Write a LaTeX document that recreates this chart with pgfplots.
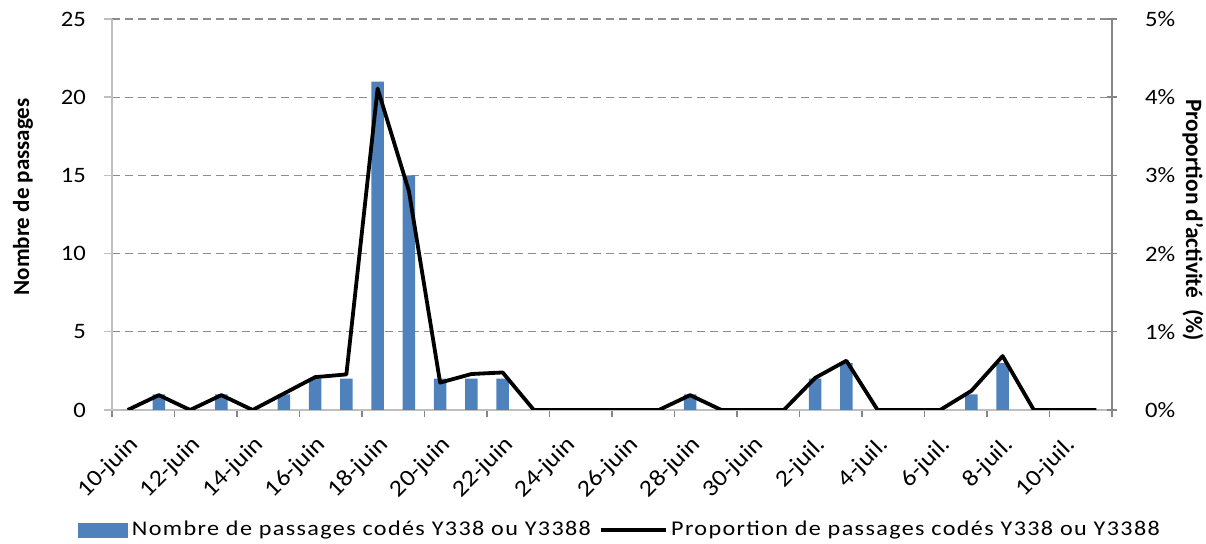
\documentclass[border=0pt]{standalone}
\usepackage{fontspec}
\setmainfont{Carlito}
\newfontfamily\tickfont{Carlito}[FakeStretch=1.12]
\newfontfamily\legfont{Carlito}[FakeStretch=1.15,LetterSpace=6.5]
\usepackage{pgfplots}
\pgfplotsset{compat=1.18}
\definecolor{barblue}{HTML}{4F81BD}
\definecolor{gridgray}{HTML}{8C8C8C}
\definecolor{axgray}{HTML}{BFBFBF}
\definecolor{raxgray}{HTML}{868686}
\begin{document}
\begin{tikzpicture}
\useasboundingbox (-56pt,-67pt) rectangle (547pt,205pt);
\pgfplotsset{
  common/.style={
    width=500pt, height=195.5pt, scale only axis,
    at={(0,0)}, anchor=south west,
    xmin=-0.5, xmax=31.5,
    /pgf/number format/assume math mode=true,
    ticklabel style={font=\tickfont\fontsize{11}{13}\selectfont, text=black},
    tick align=outside,
  }
}
\begin{axis}[common,
  ymin=0, ymax=25, ytick={0,5,...,25},
  axis y line*=left, axis x line*=bottom,
  x axis line style={axgray, line width=0.7pt, -},
  y axis line style={axgray, line width=0.7pt, -},
  xtick={0,2,...,30},
  xticklabels={10-juin,12-juin,14-juin,16-juin,18-juin,20-juin,22-juin,24-juin,26-juin,28-juin,30-juin,2-juil.,4-juil.,6-juil.,8-juil.,10-juil.},
  major x tick style={draw=none},
  minor xtick={-0.5,1.5,...,31.5},
  minor x tick style={raxgray, line width=0.6pt},
  minor tick length=3.5pt,
  major tick length=4pt,
  y tick style={axgray, line width=0.7pt},
  xticklabel style={font=\tickfont\fontsize{11.7}{13}\selectfont, xshift=0pt, yshift=-6.5pt, rotate=45, anchor=north east, inner sep=1pt},
  yticklabel style={xshift=-5.5pt},
  ymajorgrids,
  major grid style={gridgray, line width=0.6pt, dash pattern=on 4pt off 2.5pt},
  ylabel={Nombre de passages},
  ylabel style={at={(axis description cs:-0.089,0.545)}, anchor=center, font=\bfseries\fontsize{11.5}{13}\selectfont},
]
\addplot[ybar, bar width=6.25pt, fill=barblue, draw=none] coordinates {
(0,0) (1,1) (2,0) (3,1) (4,0) (5,1) (6,2) (7,2) (8,21) (9,15) (10,2) (11,2)
(12,2) (13,0) (14,0) (15,0) (16,0) (17,0) (18,1) (19,0) (20,0) (21,0) (22,2)
(23,3) (24,0) (25,0) (26,0) (27,1) (28,3) (29,0) (30,0) (31,0)
};
\end{axis}
\begin{axis}[common,
  ymin=0, ymax=5, ytick={0,1,...,5},
  yticklabel={\pgfmathprintnumber{\tick}\%},
  axis y line*=right, axis x line=none,
  y axis line style={raxgray, line width=0.7pt, -},
  y tick style={raxgray, line width=0.7pt},
  tick align=center, major tick length=5pt,
  yticklabel style={xshift=10.5pt},
  ylabel={Proportion d'activité\ \ (\%)},
  ylabel style={at={(axis description cs:1.081,0.486)}, anchor=center, rotate=180, font=\bfseries\fontsize{11.7}{13}\selectfont},
  legend columns=2,
  legend style={at={(axis description cs:0.509,-0.307)}, anchor=center, draw=none, fill=none,
    font=\legfont\fontsize{10.5}{13}\selectfont,
    nodes={inner sep=2pt},
    /tikz/every even column/.append style={column sep=2pt}},
]
\addlegendimage{legend image code/.code={\fill[barblue] (0pt,-3.5pt) rectangle (24.5pt,3.5pt);}}
\addlegendentry{Nombre de passages codés Y338 ou Y3388}
\addplot[black, line width=1.9pt, line join=round,
  legend image code/.code={\draw[black,line width=1.6pt] (0pt,0pt) -- (32.5pt,0pt);}] coordinates {
(0,0) (1,0.19) (2,0) (3,0.19) (4,0) (5,0.21) (6,0.42) (7,0.455) (8,4.11) (9,2.80)
(10,0.35) (11,0.46) (12,0.48) (13,0) (14,0) (15,0) (16,0) (17,0) (18,0.19) (19,0)
(20,0) (21,0) (22,0.41) (23,0.63) (24,0) (25,0) (26,0) (27,0.245) (28,0.69) (29,0)
(30,0) (31,0)
};
\addlegendentry{Proportion de passages codés Y338 ou Y3388}
\end{axis}
\end{tikzpicture}
\end{document}
